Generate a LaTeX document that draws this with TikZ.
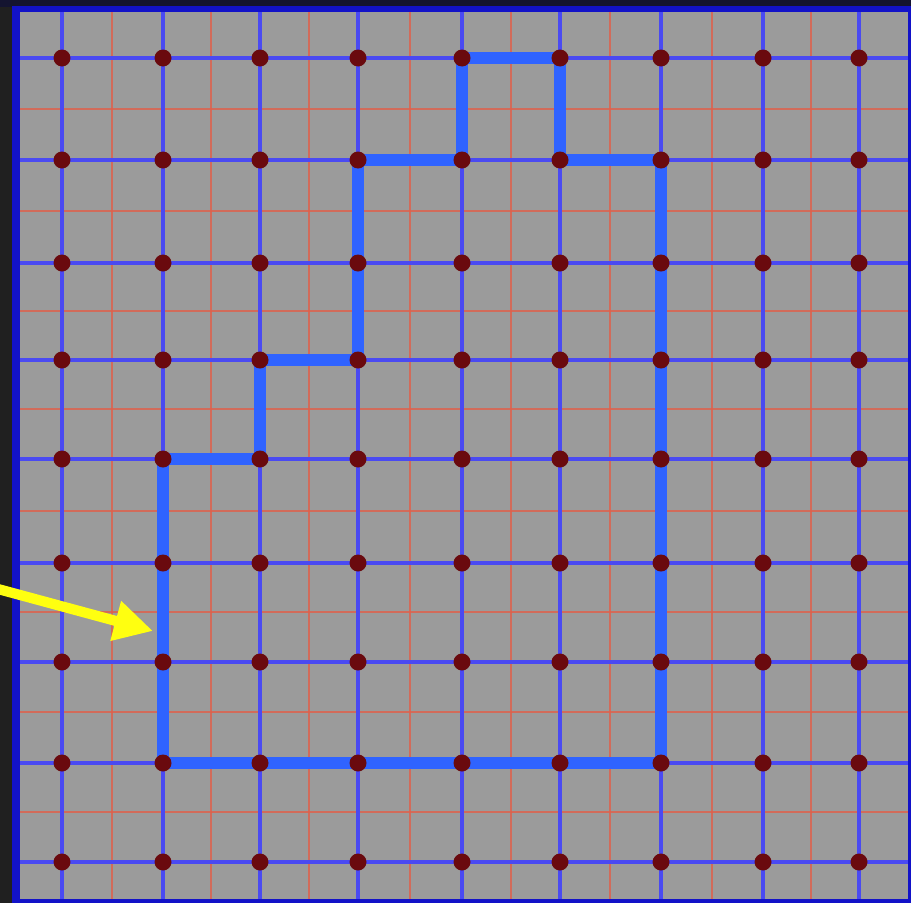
\documentclass[tikz,border=0pt]{standalone}
\usetikzlibrary{arrows.meta}
\definecolor{charcoal}{HTML}{202020}
\definecolor{navyband}{HTML}{141430}
\definecolor{borderblue}{HTML}{1212C8}
\definecolor{paper}{HTML}{9B9B9B}
\definecolor{gridblue}{HTML}{4A4AF2}
\definecolor{gridred}{HTML}{E0604A}
\definecolor{pathblue}{HTML}{2F63FF}
\definecolor{dotred}{HTML}{6A0A0E}
\definecolor{arrowyellow}{HTML}{FFFF10}
\tikzset{
  majorline/.style={draw=gridblue, line width=2.0pt},
  minorline/.style={draw=gridred, line width=1.0pt, opacity=0.8},
  loopline/.style={draw=pathblue, line width=6.4pt, line join=miter},
  dot/.style={circle, fill=dotred, inner sep=0pt, minimum size=0.34cm},
  pointer/.style={draw=arrowyellow, line width=5.8pt, -{Triangle[length=22pt,width=22pt]}},
}
\begin{document}
\begin{tikzpicture}[x=0.02cm, y=-0.02cm]
\useasboundingbox (0,0) rectangle (911,903);
% backgrounds
\fill[charcoal] (0,0) rectangle (911,903);
\fill[navyband] (0,0) rectangle (911,7);
\fill[borderblue] (12,6) rectangle (911,903);
\fill[paper] (20,12) rectangle (908,899);
% minor red lines
\foreach \x in {112,211,309,410,511,610,712,811}
  \draw[minorline] (\x,12) -- (\x,899);
\foreach \y in {109,211,311,409,511,612,712,812}
  \draw[minorline] (20,\y) -- (908,\y);
% major blue lines
\foreach \x in {62,163,260,358,462,560,661,763,859}
  \draw[majorline] (\x,12) -- (\x,899);
\foreach \y in {58,160,263,360,459,563,662,763,862}
  \draw[majorline] (20,\y) -- (908,\y);
% lattice points
\foreach \x [count=\i] in {62,163,260,358,462,560,661,763,859}
  \foreach \y [count=\j] in {58,160,263,360,459,563,662,763,862}
    \coordinate (c\i-\j) at (\x,\y);
% closed lattice path
\draw[loopline] (c2-8) -- (c2-5) -- (c3-5) -- (c3-4) -- (c4-4) -- (c4-2)
  -- (c5-2) -- (c5-1) -- (c6-1) -- (c6-2) -- (c7-2) -- (c7-8) -- cycle;
% dots
\foreach \i in {1,...,9}
  \foreach \j in {1,...,9}
    \node[dot] (d\i-\j) at (c\i-\j) {};
% arrow
\coordinate (tail) at (-2,589);
\coordinate (tip) at (153,631);
\draw[pointer] (tail) -- (tip);
\end{tikzpicture}
\end{document}
